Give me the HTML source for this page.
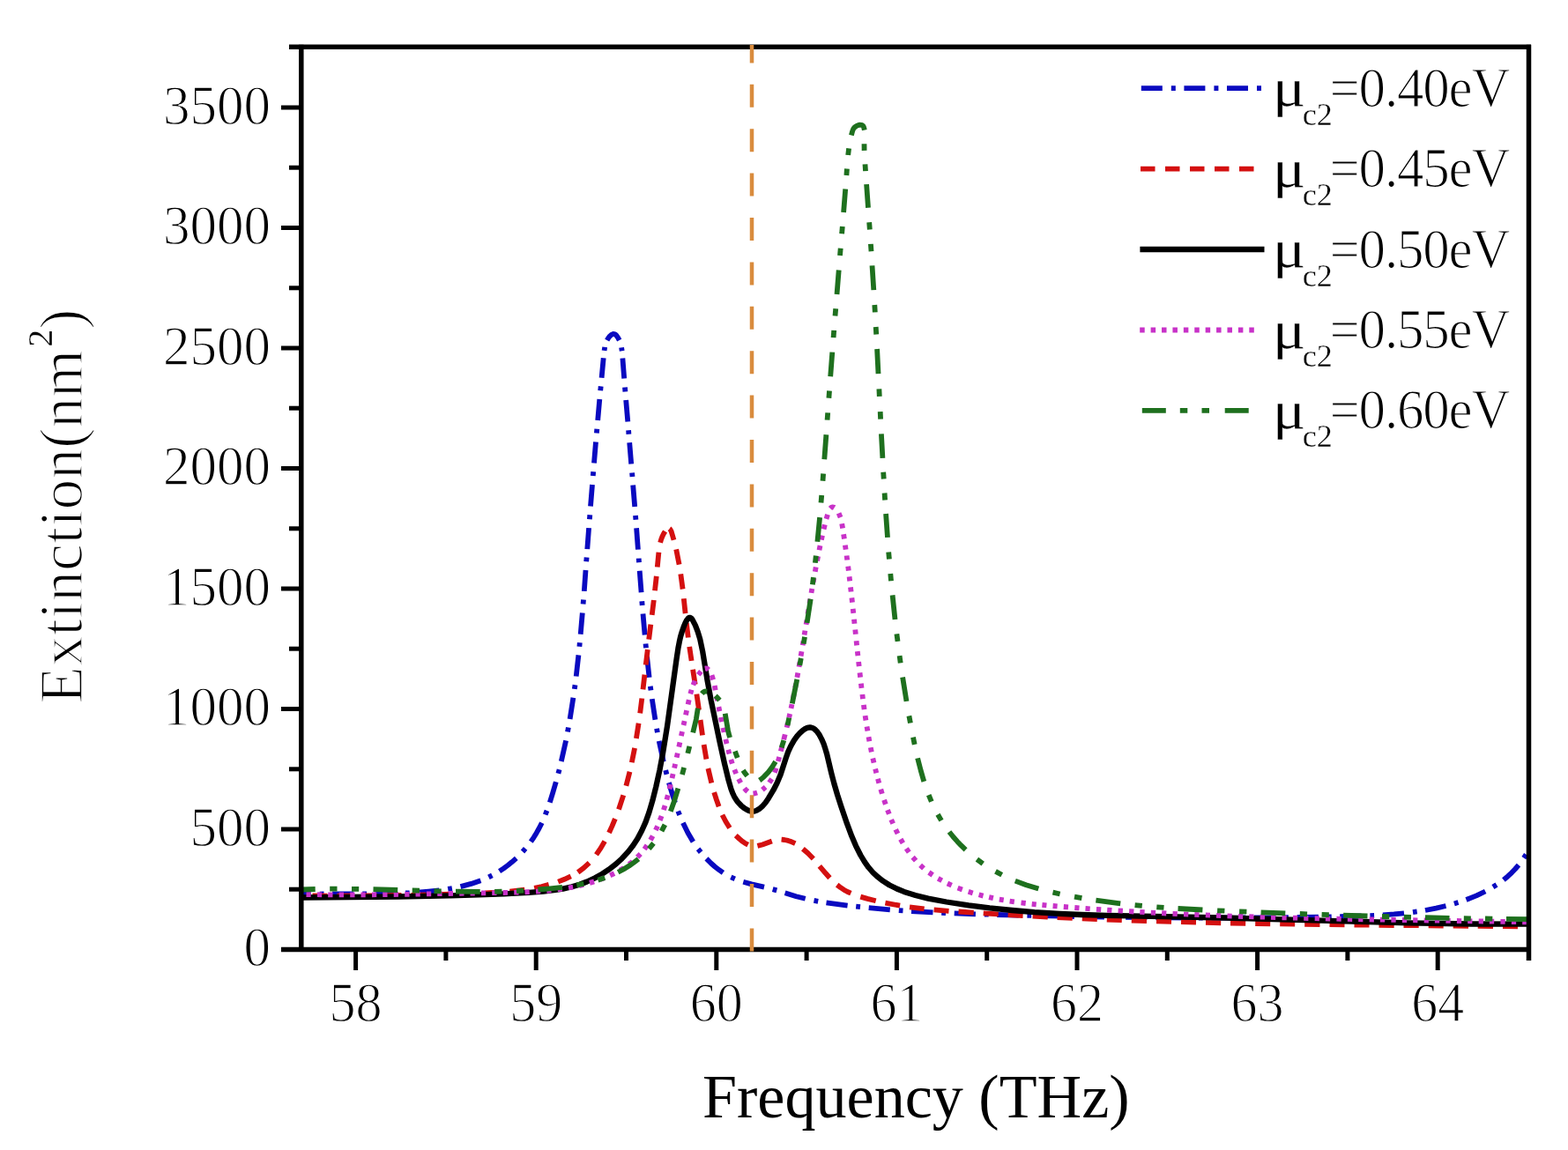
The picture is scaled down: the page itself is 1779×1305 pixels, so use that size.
<!DOCTYPE html>
<html><head><meta charset="utf-8"><title>Extinction vs Frequency</title>
<style>html,body{margin:0;padding:0;background:#fff;}svg{display:block;}</style>
</head><body>
<svg width="1779" height="1305" viewBox="0 0 1779 1305">
<rect width="100%" height="100%" fill="#fff"/>
<g fill="none" stroke-linejoin="round">
<path d="M342.0,1015.0 352.7,1014.7M362.7,1014.6 367.5,1014.5M377.0,1014.5 401.2,1014.5M411.2,1014.5 416.0,1014.5M425.7,1014.5 450.0,1014.0M460.0,1013.5 464.7,1013.3M474.2,1012.7 486.1,1011.6 498.3,1010.3M508.2,1008.8 512.9,1008.0M522.5,1006.1 534.5,1002.9 545.4,999.2M554.4,995.3 558.4,993.3M566.6,988.6 571.2,985.6 576.1,982.0 580.7,978.3 585.8,973.8M593.0,966.5 596.1,962.9M602.3,955.1 605.6,950.3 608.7,945.2 611.6,940.0 614.8,933.7M618.7,924.5 620.5,919.9M623.8,910.7 627.2,899.7 630.8,887.2M633.4,877.8 634.6,873.2M636.8,864.0 642.1,840.3M644.0,830.5 644.9,825.6M646.6,816.0 650.4,791.8M651.8,781.9 652.5,777.2M653.7,767.5 656.4,743.4M657.4,733.7 657.8,729.2M658.7,719.8 660.8,695.6M661.6,685.6 662.0,680.6M662.8,670.9 664.5,647.0M665.2,637.3 665.6,632.5M666.3,623.1 668.1,599.1M668.9,589.2 669.3,584.2M670.0,574.4 672.0,550.0M672.8,540.1 673.2,535.3M674.0,525.6 676.0,501.4M676.9,491.5 677.3,486.7M678.2,477.0 680.3,453.1M681.2,443.2 681.7,438.4M682.6,428.7 684.7,406.3M685.6,397.9 686.2,393.9M688.7,386.1 690.1,383.7 691.9,381.4 694.1,379.6 695.7,379.0 697.1,379.1 698.3,379.7 699.4,380.7 701.1,383.1 702.7,386.2M705.1,394.4 705.7,398.3M706.4,406.5 708.2,429.5M709.0,439.4 709.4,444.4M710.2,454.1 712.3,478.6M713.1,488.3 713.4,492.8M714.2,502.2 716.2,526.4M717.1,536.4 717.5,541.1M718.2,550.6 720.2,575.0M721.0,585.0 721.4,589.7M722.1,599.2 723.9,623.6M724.7,633.6 725.0,638.3M725.7,647.8 727.6,672.2M728.3,682.2 728.7,686.9M729.5,696.4 731.6,720.5M732.5,730.5 733.0,735.2M734.0,744.9 736.6,768.8M737.8,778.7 738.5,783.4M739.8,793.1 743.4,816.8M745.1,826.7 745.9,831.3M747.7,840.9 752.8,864.4M755.2,874.1 756.4,878.7M758.9,888.1 762.6,900.6 766.0,911.0M769.3,920.5 771.1,924.9M774.9,933.8 780.4,945.0 786.4,955.2M792.1,963.4 795.1,967.1M801.5,974.4 806.6,979.5 811.1,983.5 815.9,987.2 820.4,990.3M829.3,995.4 833.8,997.4M843.3,1000.8 852.7,1003.4 867.0,1006.7M876.7,1009.1 881.3,1010.4M890.6,1013.3 903.3,1017.2 913.7,1019.8M923.5,1021.9 928.2,1022.8M937.5,1024.3 961.6,1027.6M971.2,1028.7 976.0,1029.2M985.7,1030.2 1009.8,1032.3M1019.8,1033.1 1024.5,1033.4M1034.0,1034.0 1058.5,1035.4M1068.2,1035.8 1073.0,1036.0M1082.7,1036.4 1106.9,1037.3M1116.9,1037.6 1121.7,1037.7M1131.2,1038.0 1155.7,1038.6M1165.4,1038.8 1170.2,1038.9M1179.9,1039.1 1204.2,1039.7M1214.2,1039.9 1218.9,1040.0M1228.4,1040.1 1252.9,1040.5M1262.7,1040.7 1267.4,1040.8M1277.2,1040.9 1301.4,1041.2M1311.4,1041.3 1316.2,1041.3M1325.7,1041.4 1350.2,1041.5M1359.9,1041.6 1364.7,1041.6M1374.4,1041.6 1398.7,1041.6M1408.7,1041.5 1413.4,1041.5M1422.9,1041.5 1447.4,1041.3M1457.2,1041.2 1461.9,1041.1M1471.7,1041.0 1495.9,1040.6M1505.9,1040.4 1510.7,1040.3M1520.2,1040.1 1544.6,1039.5M1554.4,1039.1 1559.1,1038.9M1568.9,1038.3 1581.6,1037.4 1593.0,1036.3M1603.0,1035.1 1607.7,1034.4M1617.0,1033.0 1629.3,1030.6 1640.5,1028.0M1649.9,1025.4 1654.5,1024.0M1663.5,1021.0 1675.1,1016.4 1685.2,1011.5M1693.9,1006.6 1698.0,1004.1M1705.9,998.4 1710.7,994.4 1715.1,990.3 1719.2,986.0 1723.0,981.6M1728.9,973.6 1731.5,969.6" stroke="#0a0ac0" stroke-width="5.8" stroke-linecap="butt"/>
<path d="M342.0,1016.5 343.5,1016.5M354.5,1016.5 371.5,1016.6M382.5,1016.6 399.5,1016.5M410.5,1016.5 427.5,1016.3M438.5,1016.2 455.5,1015.9M466.5,1015.8 483.5,1015.4M494.5,1015.2 511.5,1014.7M522.5,1014.4 539.5,1013.8M550.5,1013.4 567.5,1012.5M578.4,1011.6 595.3,1009.6M606.2,1007.8 614.7,1006.0 622.7,1003.9M633.2,1000.6 640.4,997.8 647.7,994.4M655.7,989.8 662.3,984.9 668.6,979.2M676.5,969.8 681.6,962.4 686.1,954.6M691.0,945.0 694.6,937.1 697.9,929.2M702.0,918.5 707.3,902.4M710.4,891.8 714.5,875.8M716.8,865.3 720.1,848.9M721.9,838.0 724.6,820.7M726.2,809.3 728.3,792.5M729.5,782.3 731.4,765.6M732.7,754.5 734.8,737.1M736.2,725.7 738.3,708.6M739.7,697.9 741.8,681.0M743.0,670.3 744.8,653.9M745.8,643.5 747.4,626.8M749.1,615.7 750.1,612.3 751.6,608.4 752.9,605.7 754.6,602.9M759.6,599.9 760.2,600.3 761.6,602.9 764.5,612.7M767.2,623.4 770.6,640.6M772.3,651.4 774.6,668.5M775.8,679.2 777.6,696.1M778.8,706.8 780.8,723.5M782.2,733.9 784.6,749.9M786.1,759.8 788.7,776.6M790.4,787.7 793.0,805.6M794.6,817.0 797.0,834.3M798.6,844.9 801.4,861.4M803.4,872.0 807.3,888.5M810.2,899.1 812.9,907.5 815.6,915.3M819.5,924.7 823.4,932.3 827.9,939.5M834.8,948.1 839.0,952.0 842.5,954.9 845.1,956.7 848.7,958.6M859.4,959.9 865.0,958.5 875.8,954.6M886.6,952.7 889.8,953.0 894.2,953.9 898.2,955.3 902.3,957.2M910.9,963.2 916.7,968.3 922.8,974.6M929.8,982.8 936.6,990.8 941.4,996.2M949.7,1004.1 953.7,1007.2 957.4,1009.7 961.6,1012.0 965.4,1013.7M976.3,1017.6 984.2,1019.9 993.7,1022.3M1004.4,1024.7 1021.1,1027.7M1032.0,1029.3 1048.6,1031.3M1059.6,1032.4 1076.5,1033.8M1087.5,1034.5 1104.7,1035.7M1115.7,1036.4 1132.7,1037.4M1143.6,1038.1 1160.6,1039.0M1171.6,1039.7 1188.8,1040.6M1199.6,1041.1 1216.8,1041.9M1227.8,1042.4 1244.8,1043.1M1255.8,1043.5 1272.8,1044.1M1283.8,1044.5 1301.0,1045.1M1312.0,1045.4 1329.0,1045.9M1340.0,1046.2 1357.0,1046.6M1368.0,1046.9 1385.2,1047.3M1396.0,1047.5 1413.2,1047.8M1424.2,1048.0 1441.2,1048.3M1452.2,1048.4 1469.2,1048.7M1480.2,1048.8 1497.5,1049.1M1508.5,1049.2 1525.5,1049.4M1536.5,1049.5 1553.5,1049.7M1564.5,1049.8 1581.7,1050.0M1592.5,1050.1 1609.7,1050.2M1620.7,1050.3 1637.7,1050.5M1648.7,1050.6 1666.0,1050.8M1676.7,1050.9 1694.0,1051.1M1705.0,1051.2 1722.0,1051.4M1733.0,1051.6 1734.5,1051.6" stroke="#d41010" stroke-width="5.8" stroke-linecap="butt"/>
<path d="M342.0,1018.5 451.5,1017.5 511.5,1016.4 543.0,1015.4 571.5,1014.3 599.9,1012.8 616.4,1011.6 628.3,1010.2 638.7,1008.6 648.9,1006.3 657.6,1003.7 666.0,1000.5 675.5,996.1 683.3,991.7 690.8,986.7 699.1,980.3 705.7,974.2 712.9,966.4 718.4,959.3 723.3,951.8 728.2,942.5 732.5,932.9 736.5,921.6 740.3,908.7 744.3,892.7 748.5,873.6 752.1,854.5 757.1,823.4 767.6,747.6 769.4,735.7 770.8,728.3 772.1,722.5 773.8,716.7 775.8,711.0 777.5,706.9 778.9,704.2 780.7,701.8 781.8,700.9 783.3,700.9 784.5,701.8 785.4,702.9 788.9,709.6 791.6,716.6 794.2,725.2 797.3,739.9 802.6,772.4 806.7,794.6 816.5,841.6 822.0,866.5 826.6,885.4 829.5,895.5 831.1,899.7 833.0,903.8 835.3,907.6 837.1,910.1 841.2,914.5 844.7,917.3 848.6,919.5 851.4,920.5 854.4,920.7 855.9,920.6 858.7,919.6 861.3,918.1 864.7,915.2 868.6,910.7 872.0,905.7 877.4,896.7 881.5,888.7 885.6,879.0 891.6,860.5 894.1,853.4 897.2,846.6 900.9,840.1 904.5,835.2 907.5,831.9 910.8,828.9 913.3,827.2 916.0,825.9 919.0,825.4 920.5,825.6 923.2,826.7 924.4,827.6 926.6,829.7 929.3,833.3 932.1,838.6 934.5,844.1 936.4,849.8 938.1,855.5 943.3,877.4 946.3,889.0 950.1,902.0 954.2,914.8 961.0,934.7 966.3,948.8 971.0,959.8 976.4,970.5 981.0,978.2 985.4,984.3 990.3,990.0 995.8,995.1 1001.7,999.7 1009.3,1004.5 1017.4,1008.5 1025.7,1011.9 1038.6,1016.0 1053.1,1019.6 1073.8,1023.5 1099.0,1027.4 1122.8,1030.4 1148.2,1033.0 1173.6,1035.1 1202.0,1036.8 1227.5,1038.0 1256.0,1038.9 1389.5,1041.5 1597.9,1047.3 1669.9,1048.5 1734.5,1048.6" stroke="#000000" stroke-width="6.3" stroke-linecap="butt"/>
<path d="M347.5,1015.1 352.7,1015.2M360.0,1015.2 365.2,1015.3M372.2,1015.3 377.5,1015.4M384.7,1015.4 390.0,1015.4M397.2,1015.4 402.5,1015.4M409.5,1015.3 414.7,1015.3M422.0,1015.3 427.2,1015.2M434.2,1015.2 439.5,1015.1M446.7,1015.0 452.0,1014.9M459.2,1014.8 464.5,1014.8M471.5,1014.7 476.7,1014.6M484.0,1014.4 489.2,1014.4M496.2,1014.2 501.5,1014.1M508.7,1014.0 514.0,1013.9M521.2,1013.8 526.5,1013.7M533.5,1013.6 538.7,1013.5M546.0,1013.4 551.2,1013.3M558.2,1013.2 563.5,1013.1M570.7,1013.0 576.0,1012.9M583.2,1012.7 588.5,1012.6M595.5,1012.4 600.7,1012.1M608.0,1011.7 613.2,1011.4M620.2,1010.8 625.4,1010.3M632.6,1009.4 637.8,1008.7M645.0,1007.5 650.1,1006.6M657.0,1005.1 662.1,1003.9M669.0,1001.9 674.1,1000.4M680.7,998.1 685.6,996.2M692.2,993.4 697.0,991.1M703.3,987.6 707.8,984.9M713.6,980.9 717.7,977.7M723.1,972.8 726.7,969.0M731.1,963.6 734.2,959.3M738.0,953.2 740.6,948.6M743.9,942.1 746.1,937.4M748.7,930.9 750.6,926.0M752.9,919.1 754.5,914.1M756.4,907.4 757.8,902.3M759.6,895.3 760.8,890.2M762.5,883.1 763.6,878.2M765.1,871.7 766.1,866.8M767.7,859.7 768.8,854.6M770.3,847.7 771.4,842.3M772.9,835.2 774.0,830.1M775.5,823.0 776.6,818.1M778.0,811.3 779.1,806.1M780.6,799.3 781.7,794.2M783.3,787.4 784.6,782.8M786.4,777.3 788.4,772.5M792.3,765.8 795.4,761.9M799.8,758.6 801.0,758.4 802.5,758.8 804.0,760.1M807.5,766.1 809.2,771.3M810.8,778.1 811.7,783.3M813.0,790.2 814.0,795.3M815.4,802.2 816.4,807.1M817.8,814.0 818.9,819.1M820.4,825.9 821.5,831.0M823.3,838.8 824.5,844.0M826.2,850.8 827.4,855.4M829.3,861.8 830.8,866.6M833.3,873.4 835.2,878.0M838.0,883.9 840.4,888.3M844.6,894.5 846.0,896.2 848.3,898.2M854.5,900.5 856.5,900.3 859.1,899.5M864.9,896.2 868.6,893.1M872.8,888.2 875.7,883.8M878.9,876.8 880.7,871.6M882.8,864.1 884.2,859.0M885.8,852.5 887.2,847.2M889.2,839.4 890.7,833.4M892.6,825.6 893.8,820.5M895.2,814.4 896.2,810.0M897.5,803.9 898.5,799.2M899.9,792.4 900.8,787.5M902.2,780.6 903.1,775.7M904.4,768.8 905.3,763.6M906.5,756.7 907.5,751.3M908.6,744.4 909.5,739.3M910.7,732.3 911.5,727.4M912.6,720.5 913.4,715.6M914.6,708.7 915.4,703.7M916.5,696.8 917.4,691.6M918.5,684.7 919.3,679.8M920.5,672.9 921.3,668.0M922.6,660.8 923.5,655.9M924.8,648.8 925.7,643.6M927.1,636.5 928.1,631.3M929.5,624.2 930.5,619.1M931.9,612.7 933.0,607.6M934.6,600.5 935.8,595.4M937.5,588.9 939.0,583.9M942.0,577.0 943.0,575.9 944.4,575.3 945.9,575.5 946.7,576.0M951.6,582.3 953.6,587.1M955.2,594.2 956.1,599.4M957.1,606.3 957.9,611.5M958.9,618.6 959.6,623.6M960.6,630.5 961.2,635.5M962.2,642.7 962.8,647.6M963.6,654.3 964.2,659.3M965.0,666.3 965.6,671.5M966.4,678.4 967.0,683.6M967.7,690.9 968.3,695.8M969.0,702.8 969.5,707.8M970.3,714.5 970.8,719.7M971.6,727.2 972.1,732.4M972.8,739.1 973.4,744.1M974.1,751.0 974.7,756.2M975.5,763.4 976.1,768.7M976.9,775.6 977.5,780.8M978.4,788.0 979.0,793.2M979.9,799.9 980.6,805.1M981.6,812.1 982.4,817.5M983.5,824.4 984.4,829.6M985.5,836.2 986.4,841.2M987.8,848.3 988.8,853.4M990.3,860.5 991.5,865.6M993.1,872.5 994.3,877.3M996.0,883.8 997.3,888.7M999.3,895.6 1000.8,900.7M1003.1,907.8 1004.8,912.8M1007.0,919.1 1008.8,923.8M1011.2,930.1 1013.2,934.7M1016.2,941.3 1018.5,946.0M1021.8,952.2 1024.4,956.8M1028.3,962.9 1031.3,967.2M1035.6,972.7 1039.1,976.6M1044.1,981.8 1048.0,985.3M1053.9,990.0 1058.2,993.0M1064.3,996.9 1068.7,999.3M1074.9,1002.5 1079.7,1004.7M1086.6,1007.6 1091.8,1009.5M1098.7,1011.8 1103.7,1013.4M1110.6,1015.3 1115.5,1016.6M1122.1,1018.1 1126.9,1019.2M1133.8,1020.6 1138.7,1021.4M1145.6,1022.6 1150.8,1023.3M1158.5,1024.4 1163.7,1025.0M1170.7,1025.8 1175.7,1026.3M1182.4,1026.9 1187.4,1027.4M1194.6,1028.0 1199.6,1028.4M1206.8,1029.0 1212.0,1029.4M1219.3,1030.0 1224.5,1030.4M1231.5,1030.9 1236.7,1031.3M1243.9,1031.8 1249.2,1032.2M1256.2,1032.6 1261.4,1033.0M1268.6,1033.4 1273.9,1033.7M1281.1,1034.2 1286.4,1034.5M1293.3,1034.9 1298.6,1035.2M1305.8,1035.6 1311.1,1035.8M1318.1,1036.2 1323.3,1036.5M1330.5,1036.8 1335.8,1037.1M1343.0,1037.4 1348.3,1037.6M1355.3,1037.9 1360.5,1038.1M1367.8,1038.4 1373.0,1038.6M1380.0,1038.9 1385.2,1039.1M1392.5,1039.4 1397.7,1039.6M1405.0,1039.8 1410.2,1040.0M1417.2,1040.2 1422.5,1040.4M1429.7,1040.6 1435.0,1040.7M1442.0,1040.9 1447.2,1041.1M1454.5,1041.3 1459.7,1041.4M1467.0,1041.6 1472.2,1041.7M1479.2,1041.9 1484.4,1042.0M1491.7,1042.2 1496.9,1042.3M1503.9,1042.4 1509.2,1042.6M1516.4,1042.7 1521.7,1042.8M1528.9,1042.9 1534.2,1043.0M1541.2,1043.2 1546.4,1043.3M1553.7,1043.4 1558.9,1043.5M1565.9,1043.6 1571.2,1043.7M1578.4,1043.8 1583.7,1043.9M1590.9,1044.0 1596.2,1044.1M1603.2,1044.2 1608.4,1044.3M1615.7,1044.4 1620.9,1044.5M1627.9,1044.6 1633.2,1044.7M1640.4,1044.8 1645.7,1044.9M1652.9,1045.0 1658.2,1045.1M1665.2,1045.2 1670.4,1045.3M1677.7,1045.4 1682.9,1045.5M1689.9,1045.6 1695.2,1045.7M1702.4,1045.8 1707.7,1045.9M1714.9,1046.1 1720.2,1046.2M1727.2,1046.3 1732.4,1046.4" stroke="#c832c8" stroke-width="5.8" stroke-linecap="butt"/>
<path d="M342.0,1009.5 357.7,1009.0M374.2,1008.7 382.5,1008.7M399.0,1008.8 407.2,1008.9M423.5,1009.2 451.2,1010.0M467.7,1010.5 476.0,1010.7M492.5,1011.2 500.7,1011.4M517.0,1011.7 544.7,1011.9M561.2,1011.8 569.5,1011.6M586.0,1011.0 594.2,1010.6M610.4,1009.5 624.1,1008.3 638.0,1006.8M654.3,1004.3 662.4,1002.8M678.4,998.7 686.3,996.1M701.2,989.8 707.4,986.5 713.8,982.6 718.9,979.0 724.4,974.7M736.3,963.2 741.5,956.9M750.6,943.1 754.4,935.8M760.8,920.8 765.0,909.0 769.4,894.7M774.0,878.9 776.1,870.9M780.3,854.9 782.3,846.9M786.2,831.4 789.8,816.3 791.8,803.7M796.3,787.2 797.2,786.1 798.6,785.0 800.1,784.5 802.3,784.6M811.7,789.6 814.2,792.0 816.4,794.7M822.7,809.8 825.9,828.6 826.8,832.7 828.1,837.0M833.9,852.5 836.7,860.0M843.1,874.1 845.1,877.2 847.8,880.5M861.7,885.5 863.3,884.4 866.6,881.6 871.7,876.2 876.2,870.2 879.9,864.2M886.7,848.4 889.3,840.1M893.5,823.1 895.3,814.5M898.8,798.4 904.3,770.9M907.3,755.0 908.8,746.9M911.7,730.6 913.0,722.7M915.6,706.9 919.7,679.7M921.9,663.4 922.9,655.2M924.9,638.8 925.8,630.6M927.4,614.7 930.1,587.1M931.5,570.6 932.2,562.1M933.5,545.7 934.1,537.5M935.3,521.3 937.4,493.3M938.6,476.6 939.2,468.4M940.4,451.7 941.0,443.5M942.2,427.3 944.3,399.6M945.6,383.1 946.2,374.9M947.5,358.5 948.2,350.2M949.5,334.0 951.7,306.4M953.0,289.9 953.7,281.7M955.1,265.3 955.8,257.0M957.1,241.1 959.2,214.4M960.4,199.0 960.9,191.5M962.2,176.0 963.1,168.3M965.9,153.6 967.1,149.0 968.2,146.2 969.1,145.0 970.2,144.0 972.7,142.4 974.2,141.9 975.6,141.7 977.1,141.8 978.5,142.3 979.6,143.4 980.2,144.8 980.8,147.7M980.5,163.2 980.6,170.9M981.5,186.4 982.0,194.1M983.1,209.1 985.0,235.8M986.2,252.2 986.8,260.5M987.9,276.9 988.5,285.2M989.5,301.4 991.3,329.1M992.3,346.0 992.8,354.3M993.7,371.0 994.2,379.5M995.1,396.0 996.5,424.2M997.4,441.4 997.8,449.9M998.7,467.1 999.1,475.6M999.9,492.4 1001.4,519.8M1002.2,535.8 1002.7,543.5M1003.6,559.5 1004.1,567.5M1005.1,583.0 1007.0,609.9M1008.2,626.4 1008.9,634.6M1010.3,651.0 1011.0,659.2M1012.6,675.4 1015.5,703.0M1017.4,719.4 1018.5,727.8M1020.6,744.2 1021.7,752.4M1024.1,768.5 1028.5,795.9M1031.4,812.4 1032.9,820.5M1036.0,836.7 1037.7,844.8M1041.1,860.4 1044.7,874.4 1048.3,886.9M1053.7,902.2 1056.8,909.6M1064.0,924.2 1068.0,931.1M1077.0,944.0 1081.4,949.5 1086.2,954.9 1090.5,959.4 1095.6,964.3M1108.4,975.1 1115.2,980.1M1129.5,988.9 1136.7,992.8M1151.8,999.6 1164.2,1004.2 1178.3,1008.6M1194.5,1012.7 1202.6,1014.5M1219.0,1017.7 1227.4,1019.2M1243.4,1021.7 1271.2,1025.3M1287.6,1027.1 1295.8,1027.9M1312.3,1029.3 1320.5,1029.9M1336.5,1031.0 1364.4,1032.5M1381.1,1033.3 1389.4,1033.7M1406.1,1034.4 1414.4,1034.7M1430.6,1035.4 1458.3,1036.4M1474.8,1037.0 1483.1,1037.3M1499.6,1037.9 1507.8,1038.2M1524.1,1038.7 1551.5,1039.5M1568.0,1040.0 1576.3,1040.2M1592.8,1040.6 1601.0,1040.8M1617.0,1041.2 1644.5,1041.8M1660.8,1042.1 1668.8,1042.3M1685.0,1042.5 1693.3,1042.7M1709.0,1042.9 1734.5,1043.2" stroke="#1e701e" stroke-width="5.8" stroke-linecap="butt"/>
</g>
<g stroke="#000" stroke-width="5.5" fill="none" stroke-linecap="butt">
<line x1="319" y1="1077.5" x2="1737.0" y2="1077.5"/>
<line x1="328" y1="53.3" x2="1737.0" y2="53.3"/>
<line x1="341.8" y1="50.8" x2="341.8" y2="1080.0"/>
<line x1="1734.5" y1="50.8" x2="1734.5" y2="1090"/>
</g>
<g stroke="#000" stroke-width="5">
<line x1="328" y1="1009.2" x2="341.8" y2="1009.2"/>
<line x1="319" y1="941.0" x2="341.8" y2="941.0"/>
<line x1="328" y1="872.8" x2="341.8" y2="872.8"/>
<line x1="319" y1="804.5" x2="341.8" y2="804.5"/>
<line x1="328" y1="736.2" x2="341.8" y2="736.2"/>
<line x1="319" y1="668.0" x2="341.8" y2="668.0"/>
<line x1="328" y1="599.8" x2="341.8" y2="599.8"/>
<line x1="319" y1="531.5" x2="341.8" y2="531.5"/>
<line x1="328" y1="463.2" x2="341.8" y2="463.2"/>
<line x1="319" y1="395.0" x2="341.8" y2="395.0"/>
<line x1="328" y1="326.8" x2="341.8" y2="326.8"/>
<line x1="319" y1="258.5" x2="341.8" y2="258.5"/>
<line x1="328" y1="190.2" x2="341.8" y2="190.2"/>
<line x1="319" y1="122.0" x2="341.8" y2="122.0"/>
<line x1="403.6" y1="1077.5" x2="403.6" y2="1101"/>
<line x1="505.9" y1="1077.5" x2="505.9" y2="1090"/>
<line x1="608.2" y1="1077.5" x2="608.2" y2="1101"/>
<line x1="710.5" y1="1077.5" x2="710.5" y2="1090"/>
<line x1="812.8" y1="1077.5" x2="812.8" y2="1101"/>
<line x1="915.1" y1="1077.5" x2="915.1" y2="1090"/>
<line x1="1017.4" y1="1077.5" x2="1017.4" y2="1101"/>
<line x1="1119.7" y1="1077.5" x2="1119.7" y2="1090"/>
<line x1="1222.0" y1="1077.5" x2="1222.0" y2="1101"/>
<line x1="1324.3" y1="1077.5" x2="1324.3" y2="1090"/>
<line x1="1426.6" y1="1077.5" x2="1426.6" y2="1101"/>
<line x1="1528.9" y1="1077.5" x2="1528.9" y2="1090"/>
<line x1="1631.2" y1="1077.5" x2="1631.2" y2="1101"/>
</g>
<line x1="853" y1="51" x2="853" y2="1080" stroke="#D98C3E" stroke-width="4.5" stroke-dasharray="26 24.4" stroke-dashoffset="5.6"/>
<g style="font-family:'Liberation Serif','Times New Roman',serif;font-size:61px" fill="#000" stroke="#fff" stroke-width="1.2" text-anchor="end">
<text transform="translate(307,1096.4) scale(1,1.05)">0</text>
<text transform="translate(307,959.9) scale(1,1.05)">500</text>
<text transform="translate(307,823.4) scale(1,1.05)">1000</text>
<text transform="translate(307,686.9) scale(1,1.05)">1500</text>
<text transform="translate(307,550.4) scale(1,1.05)">2000</text>
<text transform="translate(307,413.9) scale(1,1.05)">2500</text>
<text transform="translate(307,277.4) scale(1,1.05)">3000</text>
<text transform="translate(307,140.9) scale(1,1.05)">3500</text>
</g>
<g style="font-family:'Liberation Serif','Times New Roman',serif;font-size:60px" fill="#000" stroke="#fff" stroke-width="1.2" text-anchor="middle">
<text transform="translate(403.6,1158.6) scale(1,1.05)">58</text>
<text transform="translate(608.2,1158.6) scale(1,1.05)">59</text>
<text transform="translate(812.8,1158.6) scale(1,1.05)">60</text>
<text transform="translate(1017.4,1158.6) scale(1,1.05)">61</text>
<text transform="translate(1222.0,1158.6) scale(1,1.05)">62</text>
<text transform="translate(1426.6,1158.6) scale(1,1.05)">63</text>
<text transform="translate(1631.2,1158.6) scale(1,1.05)">64</text>
</g>
<text x="797" y="1267.7" style="font-family:'Liberation Serif','Times New Roman',serif;font-size:70.1px" fill="#000">Frequency (THz)</text>
<text transform="translate(92.8,798.8) rotate(-90)" style="font-family:'Liberation Serif','Times New Roman',serif;font-size:69.6px" fill="#000" stroke="#fff" stroke-width="1.6">Extinction(nm<tspan dx="3" dy="-34" style="font-size:40px" stroke-width="0.3">2</tspan><tspan dy="34">)</tspan></text>
<line x1="1294.8" y1="100.1" x2="1434.5" y2="100.1" stroke="#0a0ac0" stroke-width="5.8" stroke-dasharray="24 10 5 9.6"/>
<g style="font-family:'Liberation Serif','Times New Roman',serif" fill="#000" stroke="#fff">
<text transform="translate(1443.7,120.3) scale(1.15,1)" style="font-size:61px" stroke-width="0.4">μ</text>
<text x="1477.7" y="141.6" style="font-size:36px" stroke-width="0.3">c2</text>
<text transform="translate(1508.4,120.6) scale(1,1.035)" style="font-size:61px" stroke-width="1.2" letter-spacing="-1.2">=0.40eV</text>
</g>
<line x1="1294" y1="191.6" x2="1423" y2="191.6" stroke="#d41010" stroke-width="5.8" stroke-dasharray="16.5 11.5"/>
<g style="font-family:'Liberation Serif','Times New Roman',serif" fill="#000" stroke="#fff">
<text transform="translate(1443.7,211.8) scale(1.15,1)" style="font-size:61px" stroke-width="0.4">μ</text>
<text x="1477.7" y="233.1" style="font-size:36px" stroke-width="0.3">c2</text>
<text transform="translate(1508.4,212.1) scale(1,1.035)" style="font-size:61px" stroke-width="1.2" letter-spacing="-1.2">=0.45eV</text>
</g>
<line x1="1293.4" y1="283.0" x2="1434.5" y2="283.0" stroke="#000000" stroke-width="6.3"/>
<g style="font-family:'Liberation Serif','Times New Roman',serif" fill="#000" stroke="#fff">
<text transform="translate(1443.7,303.2) scale(1.15,1)" style="font-size:61px" stroke-width="0.4">μ</text>
<text x="1477.7" y="324.5" style="font-size:36px" stroke-width="0.3">c2</text>
<text transform="translate(1508.4,303.5) scale(1,1.035)" style="font-size:61px" stroke-width="1.2" letter-spacing="-1.2">=0.50eV</text>
</g>
<line x1="1293.2" y1="374.5" x2="1425" y2="374.5" stroke="#c832c8" stroke-width="5.8" stroke-dasharray="5.5 6.91"/>
<g style="font-family:'Liberation Serif','Times New Roman',serif" fill="#000" stroke="#fff">
<text transform="translate(1443.7,394.7) scale(1.15,1)" style="font-size:61px" stroke-width="0.4">μ</text>
<text x="1477.7" y="416.0" style="font-size:36px" stroke-width="0.3">c2</text>
<text transform="translate(1508.4,395.0) scale(1,1.035)" style="font-size:61px" stroke-width="1.2" letter-spacing="-1.2">=0.55eV</text>
</g>
<line x1="1295.8" y1="465.9" x2="1425" y2="465.9" stroke="#1e701e" stroke-width="5.8" stroke-dasharray="27 16 8.5 16.2 8.5 17.7"/>
<g style="font-family:'Liberation Serif','Times New Roman',serif" fill="#000" stroke="#fff">
<text transform="translate(1443.7,486.1) scale(1.15,1)" style="font-size:61px" stroke-width="0.4">μ</text>
<text x="1477.7" y="507.4" style="font-size:36px" stroke-width="0.3">c2</text>
<text transform="translate(1508.4,486.4) scale(1,1.035)" style="font-size:61px" stroke-width="1.2" letter-spacing="-1.2">=0.60eV</text>
</g>
</svg>
</body></html>
